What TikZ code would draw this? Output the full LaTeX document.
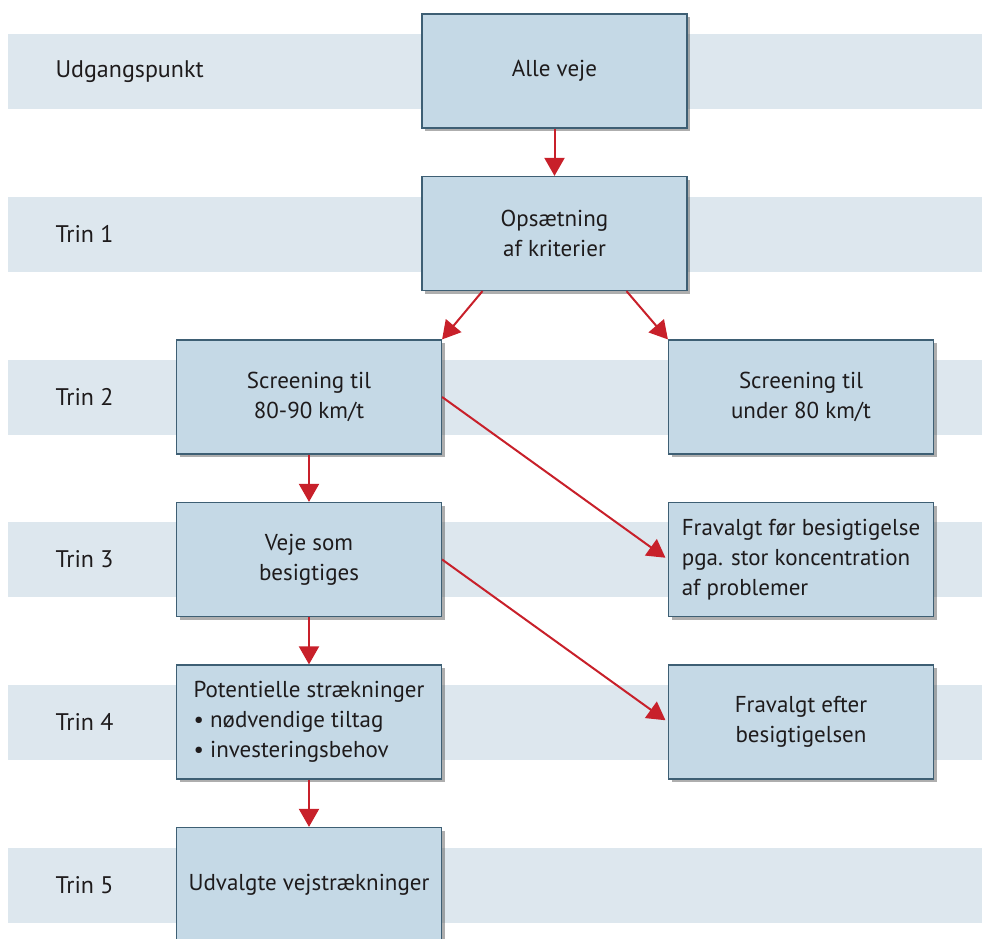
\documentclass[tikz,border=0pt]{standalone}
\usepackage{fontspec}
\setmainfont{PT Sans}
\usetikzlibrary{positioning,shadows,arrows.meta}

\definecolor{bandfill}{HTML}{DDE7EE}
\definecolor{boxfill}{HTML}{C5D9E6}
\definecolor{boxline}{HTML}{3E5F74}
\definecolor{arrowred}{HTML}{C8202A}
\definecolor{textdark}{HTML}{1E1B1C}

\tikzset{
  stage/.style={draw=boxline, line width=1.2pt, fill=boxfill,
    minimum width=265pt, minimum height=114pt, align=center,
    font=\fontsize{23}{30}\selectfont, text=textdark,
    drop shadow={shadow xshift=3pt, shadow yshift=-3pt, opacity=.45, fill=black!70}},
  level/.style={anchor=west, font=\fontsize{24}{30}\selectfont, text=textdark},
  flow/.style={draw=arrowred, line width=2pt, -{Triangle[width=20pt,length=18pt]}}
}

\begin{document}
\begin{tikzpicture}[x=1pt, y=-1pt, node distance=162.5pt and 492pt, on grid]
\useasboundingbox (0,0) rectangle (982,939);
\clip (0,0) rectangle (982,939);
% bands
\foreach \y/\name/\txt in {71.5/u/Udgangspunkt, 234/t1/Trin 1, 397/t2/Trin 2,
  559.5/t3/Trin 3, 722/t4/Trin 4, 885/t5/Trin 5} {
  \fill[bandfill] (8,\y-37.5) rectangle (982,\y+37.5);
  \node[level] (lbl-\name) at (52,\y) {\txt};
}
% boxes
\node[stage] (alle) at (554.5,71) {Alle veje};
\node[stage] (opsaet) [below=of alle] {Opsætning\\af kriterier};
\node[stage] (scr) at (309,397) {Screening til\\80-90 km/t};
\node[stage] (scru) [right=of scr] {Screening til\\under 80 km/t};
\node[stage] (veje) [below=of scr] {Veje som\\besigtiges};
\node[stage, align=left] (fravf) [right=of veje] {Fravalgt før besigtigelse\\pga. stor koncentration\\af problemer};
\node[stage, align=left] (pot) [below=of veje] {Potentielle strækninger\\\textbullet\ nødvendige tiltag\\\textbullet\ investeringsbehov};
\node[stage] (fravE) [right=of pot] {Fravalgt efter\\besigtigelsen};
\node[stage] (udv) [below=of pot] {Udvalgte vejstrækninger};
% arrows
\draw[flow] (alle) -- (opsaet);
\draw[flow] ([xshift=-72pt]opsaet.south) -- (scr.north east);
\draw[flow] ([xshift=72pt]opsaet.south) -- (scru.north west);
\draw[flow, shorten >=3pt] (scr.east) -- (fravf.west);
\draw[flow] (scr) -- (veje);
\draw[flow, shorten >=3pt] (veje.east) -- (fravE.west);
\draw[flow] (veje) -- (pot);
\draw[flow] (pot) -- (udv);
\end{tikzpicture}
\end{document}
